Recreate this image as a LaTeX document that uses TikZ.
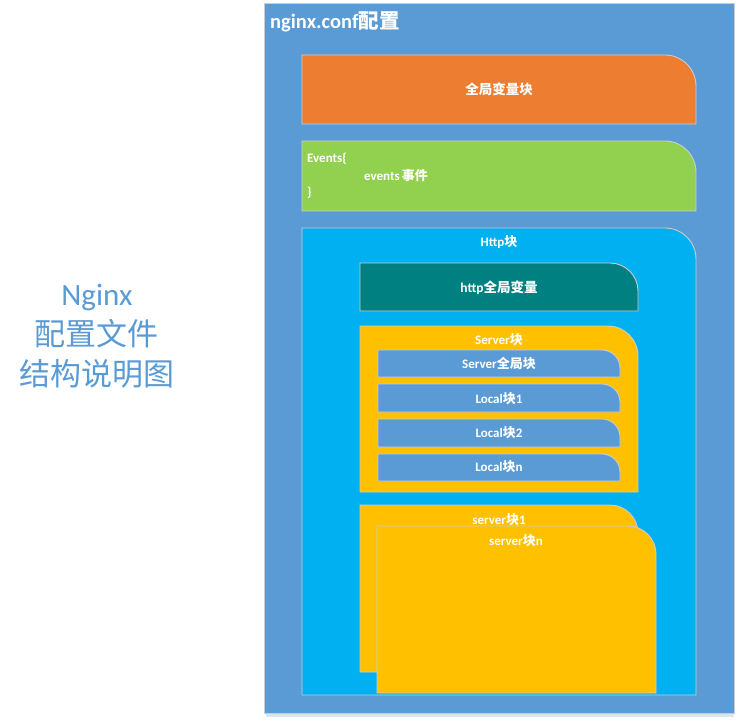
\documentclass[tikz,border=0pt]{standalone}
\usepackage{fontspec}
\setmainfont{Carlito}
\newfontfamily\cjk{Noto Sans CJK SC}
\newcommand{\zh}[1]{{\cjk #1}}
\definecolor{cblue}{HTML}{5B9BD5}
\definecolor{corange}{HTML}{ED7D31}
\definecolor{cgreen}{HTML}{92D050}
\definecolor{csky}{HTML}{00B0F0}
\definecolor{cteal}{HTML}{008080}
\definecolor{cgold}{HTML}{FFC000}
\definecolor{cedge}{HTML}{C8CDD2}
% tab box: x1,y1,x2,y2,r,fill
\newcommand{\tabbox}[6]{%
  \draw[blk,fill=#6] (#1,#4) -- (#1,#2) -- ({#3-#5},#2)
    .. controls ({#3-0.45*#5},#2) and (#3,{#2+0.45*#5}) .. (#3,{#2+#5})
    -- (#3,#4) -- cycle;}
\begin{document}
\begin{tikzpicture}[x=1pt,y=-1pt,
  blk/.style={draw=cedge,line width=0.9pt},
  lbl/.style={text=white,inner sep=0pt,font=\bfseries\fontsize{13.5}{16}\selectfont},
  slbl/.style={text=white,inner sep=0pt,font=\bfseries\fontsize{13}{15}\selectfont},
  side/.style={text=cblue,inner sep=0pt,align=center,font=\fontsize{31}{40}\selectfont}]
\useasboundingbox[fill=white] (0,0) rectangle (739,722);
% outer
\fill[cblue!25] (266,713) rectangle (734,717);
\draw[blk,fill=cblue] (264,3) rectangle (734,713);
\node[anchor=west,text=white,inner sep=0pt,font=\bfseries\fontsize{20.5}{24}\selectfont] (title) at (270,22) {nginx.conf\zh{配置}};
% global block
\tabbox{302}{55}{696}{124}{31}{corange}
\node[lbl] (global) at (499,89) {\zh{全局变量块}};
% events
\tabbox{302}{141}{696}{211}{31}{cgreen}
\node[slbl,anchor=west] (ev1) at (307,159) {Events\{};
\node[slbl,anchor=west] (ev2) at (364,176) {events\,\zh{事件}};
\node[slbl,anchor=west] (ev3) at (307,193) {\}};
% http
\tabbox{302}{228}{696}{695}{31}{csky}
\node[slbl] (http) at (499,242) {Http\zh{块}};
\tabbox{360}{263}{638}{311}{28}{cteal}
\node[lbl] (httpvar) at (499,288) {http\zh{全局变量}};
% server block
\tabbox{360}{326}{638}{492}{30}{cgold}
\node[slbl] (server) at (499,340) {Server\zh{块}};
\tabbox{378}{350}{620}{377}{18}{cblue}
\node[slbl] (sglobal) at (499,364) {Server\zh{全局块}};
\tabbox{378}{384}{620}{412}{18}{cblue}
\node[slbl] (loc1) at (499,399) {Local\zh{块}1};
\tabbox{378}{419}{620}{447}{18}{cblue}
\node[slbl] (loc2) at (499,433) {Local\zh{块}2};
\tabbox{378}{454}{620}{481}{18}{cblue}
\node[slbl] (locn) at (499,467) {Local\zh{块}n};
% server 1 and n
\tabbox{360}{505}{638}{672}{28}{cgold}
\node[slbl] (s1) at (499,520) {server\zh{块}1};
\tabbox{377}{526}{656}{693}{28}{cgold}
\node[slbl] (sn) at (516,541) {server\zh{块}n};
% side title
\node[side] (side) at (97,336) {Nginx\\\zh{配置文件}\\\zh{结构说明图}};
\end{tikzpicture}
\end{document}
